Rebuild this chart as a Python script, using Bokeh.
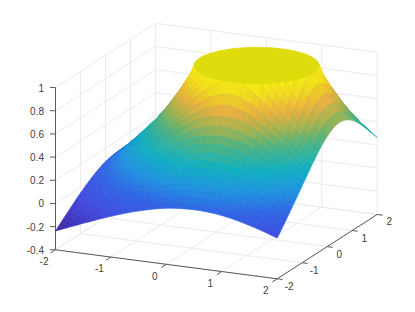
from bokeh.plotting import figure
from bokeh.models import Range1d
from bokeh.embed import file_html
from bokeh.resources import INLINE
from bokeh.core.properties import value
import numpy as np

# Axis tick values and labels
x_ticks = [-2, -1, 0, 1, 2]
y_ticks = [-2, -1, 0, 1, 2]
z_ticks = [-0.4, -0.2, 0, 0.2, 0.4, 0.6, 0.8, 1]
x_labels = ["-2", "-1", "0", "1", "2"]
y_labels = ["-2", "-1", "0", "1", "2"]
z_labels = ["-0.4", "-0.2", "0", "0.2", "0.4", "0.6", "0.8", "1"]

# Surface heights on a 0.1 grid. Each list is one row of constant y,
# x running from -2 to 2. The surface is mirror-symmetric about y=0.5, so rows are named by
# their distance from that line (h25 = 2.5 away) and reused on both sides of it.
h25 = [-.238,-.218,-.199,-.179,-.160,-.140,-.122,-.103,-.084,-.066,-.049,-.032,-.015,.000,.015,.029,.042,.054,.065,.075,.083,.090,.095,.099,.101,.102,.101,.099,.095,.090,.083,.075,.065,.054,.042,.029,.015,.000,-.015,-.032,-.049]
h24 = [-.218,-.20,-.18,-.16,-.14,-.12,-.10,-.08,-.06,-.04,-.02,.00,.02,.03,.05,.06,.08,.09,.10,.11,.12,.13,.13,.14,.14,.14,.14,.14,.13,.13,.12,.11,.10,.09,.08,.06,.05,.03,.02,.00,-.020]
h23 = [-.199,-.18,-.16,-.13,-.11,-.09,-.07,-.05,-.03,-.01,.01,.03,.05,.07,.08,.10,.11,.13,.14,.15,.16,.17,.18,.18,.18,.18,.18,.18,.18,.17,.16,.15,.14,.13,.11,.10,.08,.07,.05,.03,.010]
h22 = [-.179,-.16,-.13,-.11,-.09,-.07,-.05,-.02,.00,.02,.04,.06,.08,.10,.12,.14,.15,.17,.18,.19,.20,.21,.22,.22,.23,.23,.23,.22,.22,.21,.20,.19,.18,.17,.15,.14,.12,.10,.08,.06,.040]
h21 = [-.160,-.14,-.11,-.09,-.07,-.04,-.02,.00,.03,.05,.07,.09,.11,.13,.15,.17,.19,.21,.22,.24,.25,.26,.26,.27,.27,.27,.27,.27,.26,.26,.25,.24,.22,.21,.19,.17,.15,.13,.11,.09,.071]
h20 = [-.140,-.12,-.09,-.07,-.04,-.02,.01,.03,.05,.08,.10,.13,.15,.17,.19,.21,.23,.25,.27,.28,.29,.30,.31,.32,.32,.32,.32,.32,.31,.30,.29,.28,.27,.25,.23,.21,.19,.17,.15,.13,.102]
h19 = [-.122,-.10,-.07,-.05,-.02,.01,.03,.06,.08,.11,.13,.16,.18,.21,.23,.25,.27,.29,.31,.33,.34,.35,.36,.37,.37,.37,.37,.37,.36,.35,.34,.33,.31,.29,.27,.25,.23,.21,.18,.16,.134]
h18 = [-.103,-.08,-.05,-.02,.00,.03,.06,.09,.11,.14,.17,.19,.22,.24,.27,.29,.32,.34,.35,.37,.39,.40,.41,.42,.42,.42,.42,.42,.41,.40,.39,.37,.35,.34,.32,.29,.27,.24,.22,.19,.166]
h17 = [-.084,-.06,-.03,.00,.03,.05,.08,.11,.14,.17,.20,.23,.26,.28,.31,.33,.36,.38,.40,.42,.44,.45,.46,.47,.48,.48,.48,.47,.46,.45,.44,.42,.40,.38,.36,.33,.31,.28,.26,.23,.198]
h16 = [-.066,-.04,-.01,.02,.05,.08,.11,.14,.17,.20,.23,.26,.29,.32,.35,.38,.40,.43,.45,.47,.49,.51,.52,.53,.54,.54,.54,.53,.52,.51,.49,.47,.45,.43,.40,.38,.35,.32,.29,.26,.230]
h15 = [-.049,-.02,.01,.04,.07,.10,.13,.17,.20,.23,.26,.30,.33,.36,.39,.42,.45,.48,.51,.53,.55,.57,.58,.59,.60,.60,.60,.59,.58,.57,.55,.53,.51,.48,.45,.42,.39,.36,.33,.30,.263]
h14 = [-.032,.00,.03,.06,.09,.13,.16,.19,.23,.26,.30,.33,.37,.40,.43,.47,.50,.53,.56,.59,.61,.63,.65,.66,.67,.67,.67,.66,.65,.63,.61,.59,.56,.53,.50,.47,.43,.40,.37,.33,.296]
h13 = [-.015,.02,.05,.08,.11,.15,.18,.22,.26,.29,.33,.37,.40,.44,.48,.51,.55,.59,.62,.65,.68,.70,.72,.73,.74,.74,.74,.73,.72,.70,.68,.65,.62,.59,.55,.51,.48,.44,.40,.37,.328]
h12 = [.000,.03,.07,.10,.13,.17,.21,.24,.28,.32,.36,.40,.44,.48,.52,.56,.60,.64,.68,.71,.74,.77,.79,.81,.82,.82,.82,.81,.79,.77,.74,.71,.68,.64,.60,.56,.52,.48,.44,.40,.360]
h11 = [.015,.05,.08,.12,.15,.19,.23,.27,.31,.35,.39,.43,.48,.52,.57,.61,.65,.70,.74,.78,.81,.85,.87,.89,.90,.91,.90,.89,.87,.85,.81,.78,.74,.70,.65,.61,.57,.52,.48,.43,.392]
h10 = [.029,.06,.10,.14,.17,.21,.25,.29,.33,.38,.42,.47,.51,.56,.61,.66,.71,.76,.80,.85,.89,.93,.96,1,1,1,1,1,.96,.93,.89,.85,.80,.76,.71,.66,.61,.56,.51,.47,.422]
h09 = [.042,.08,.11,.15,.19,.23,.27,.32,.36,.40,.45,.50,.55,.60,.65,.71,.76,.82,.87,.92,1,1,1,1,1,1,1,1,1,1,1,.92,.87,.82,.76,.71,.65,.60,.55,.50,.452]
h08 = [.054,.09,.13,.17,.21,.25,.29,.34,.38,.43,.48,.53,.59,.64,.70,.76,.82,.88,.94,1,1,1,1,1,1,1,1,1,1,1,1,1,.94,.88,.82,.76,.70,.64,.59,.53,.480]
h07 = [.065,.10,.14,.18,.22,.27,.31,.35,.40,.45,.51,.56,.62,.68,.74,.80,.87,.94,1,1,1,1,1,1,1,1,1,1,1,1,1,1,1,.94,.87,.80,.74,.68,.62,.56,.506]
h06 = [.075,.11,.15,.19,.24,.28,.33,.37,.42,.47,.53,.59,.65,.71,.78,.85,.92,1,1,1,1,1,1,1,1,1,1,1,1,1,1,1,1,1,.92,.85,.78,.71,.65,.59,.530]
h05 = [.083,.12,.16,.20,.25,.29,.34,.39,.44,.49,.55,.61,.68,.74,.81,.89,1,1,1,1,1,1,1,1,1,1,1,1,1,1,1,1,1,1,1,.89,.81,.74,.68,.61,.551]
h04 = [.090,.13,.17,.21,.26,.30,.35,.40,.45,.51,.57,.63,.70,.77,.85,.93,1,1,1,1,1,1,1,1,1,1,1,1,1,1,1,1,1,1,1,.93,.85,.77,.70,.63,.569]
h03 = [.095,.13,.18,.22,.26,.31,.36,.41,.46,.52,.58,.65,.72,.79,.87,.96,1,1,1,1,1,1,1,1,1,1,1,1,1,1,1,1,1,1,1,.96,.87,.79,.72,.65,.583]
h02 = [.099,.14,.18,.22,.27,.32,.37,.42,.47,.53,.59,.66,.73,.81,.89,1,1,1,1,1,1,1,1,1,1,1,1,1,1,1,1,1,1,1,1,1,.89,.81,.73,.66,.594]
h01 = [.101,.14,.18,.23,.27,.32,.37,.42,.48,.54,.60,.67,.74,.82,.90,1,1,1,1,1,1,1,1,1,1,1,1,1,1,1,1,1,1,1,1,1,.90,.82,.74,.67,.600]
h00 = [.102,.14,.18,.23,.27,.32,.37,.42,.48,.54,.60,.67,.74,.82,.91,1,1,1,1,1,1,1,1,1,1,1,1,1,1,1,1,1,1,1,1,1,.91,.82,.74,.67,.603]
z_rows = [h25, h24, h23, h22, h21, h20, h19, h18, h17, h16, h15, h14, h13, h12, h11, h10, h09, h08, h07, h06, h05, h04, h03, h02, h01,
          h00, h01, h02, h03, h04, h05, h06, h07, h08, h09, h10, h11, h12, h13, h14, h15]
grid_x = [round(-2 + 0.1 * i, 1) for i in range(41)]
grid_y = list(grid_x)

# Flat circular top of the surface
top_center = (0.5, 0.5)
top_radius = 1.03
top_height = 1.0

colour_low, colour_high = -0.25, 1.0
parula_pos = [0, .16, .28, .38, .5, .63, .72, .82, .92, 1]
parula_rgb = [(60,38,160),(65,75,225),(48,100,228),(32,144,224),(16,176,192),(80,178,128),(160,178,80),(232,176,64),(240,215,30),(245,240,20)]
top_colour = "#dedc0c"
grid_colour = "#ebebeb"
axis_colour = "#5a5a5a"
text_colour = "#404040"
font = "Liberation Sans"

def project(x, y, z):
    x, y, z = np.asarray(x, float), np.asarray(y, float), np.asarray(z, float)
    sx = 55 + (x + 2) * 55.42 + (y + 2) * 25.0
    sy = 249.3 + (x + 2) * 7.25 - (y + 2) * 16.08 - (z + 0.4) * 115.9
    return sx, sy

def parula(v):
    t = np.clip((v - colour_low) / (colour_high - colour_low), 0, 1)
    rgb = [int(round(np.interp(t, parula_pos, [c[i] for c in parula_rgb]))) for i in range(3)]
    return "#%02x%02x%02x" % tuple(rgb)

p = figure(width=399, height=296, output_backend="svg", toolbar_location=None,
           x_range=Range1d(0, 399), y_range=Range1d(296, 0), min_border=0)
p.axis.visible = False
p.grid.visible = False
p.outline_line_color = None
p.background_fill_color = "white"

# Grid lines on the floor and the two back walls
zmin, zmax = z_ticks[0], z_ticks[-1]
gx, gy = [], []
def seg(a, b):
    sx, sy = project(*zip(a, b))
    gx.append(sx.tolist()); gy.append(sy.tolist())
for x in x_ticks:
    seg((x, -2, zmin), (x, 2, zmin))
    seg((x, 2, zmin), (x, 2, zmax))
for y in y_ticks:
    seg((-2, y, zmin), (2, y, zmin))
    seg((-2, y, zmin), (-2, y, zmax))
for z in z_ticks:
    seg((-2, -2, z), (-2, 2, z))
    seg((-2, 2, z), (2, 2, z))
p.multi_line(gx, gy, line_color=grid_colour, line_width=1)

# Axis lines and ticks
ax, ay = [], []
for a, b in [((-2,-2,zmin),(-2,-2,zmax)), ((-2,-2,zmin),(2,-2,zmin)), ((2,-2,zmin),(2,2,zmin))]:
    sx, sy = project(*zip(a, b))
    ax.append(sx.tolist()); ay.append(sy.tolist())
for z in z_ticks:
    sx, sy = project(-2, -2, z)
    ax.append([float(sx), float(sx) - 5.5]); ay.append([float(sy), float(sy)])
for x in x_ticks:
    sx, sy = project(x, -2, zmin)
    ax.append([float(sx), float(sx) - 5]); ay.append([float(sy), float(sy) + 3.2])
for y in y_ticks:
    sx, sy = project(2, y, zmin)
    ax.append([float(sx), float(sx) + 5.5]); ay.append([float(sy), float(sy) + 0.7])
p.multi_line(ax, ay, line_color=axis_colour, line_width=1)

# Surface: one facet per table cell, far cells first
zg = np.array(z_rows)
cells = []
for j in range(len(grid_y) - 1):
    for i in range(len(grid_x) - 1):
        xs = [grid_x[i], grid_x[i + 1], grid_x[i + 1], grid_x[i]]
        ys = [grid_y[j], grid_y[j], grid_y[j + 1], grid_y[j + 1]]
        zs = [zg[j, i], zg[j, i + 1], zg[j + 1, i + 1], zg[j + 1, i]]
        depth = 7.25 * np.mean(xs) - 16.08 * np.mean(ys)
        cells.append((depth, xs, ys, zs))
cells.sort(key=lambda c: c[0])
px, py, pc = [], [], []
for _, xs, ys, zs in cells:
    sx, sy = project(xs, ys, zs)
    px.append(sx.tolist()); py.append(sy.tolist()); pc.append(parula(np.mean(zs)))
p.patches(px, py, fill_color=pc, line_color=pc, line_width=0.6)

theta = np.linspace(0, 2 * np.pi, 121)
sx, sy = project(top_center[0] + top_radius * np.cos(theta), top_center[1] + top_radius * np.sin(theta), np.full_like(theta, top_height))
p.patch(sx.tolist(), sy.tolist(), fill_color=top_colour, line_color=top_colour, line_width=0.6)

# Tick labels
tx, ty = project(x_ticks, [-2] * 5, [zmin] * 5)
p.text((tx - 11.5).tolist(), (ty + 11.3).tolist(), text=x_labels, text_font=value(font), text_font_size="10px",
       text_color=text_colour, text_align="center", text_baseline="middle")
tx, ty = project([2] * 5, y_ticks, [zmin] * 5)
p.text((tx + 12).tolist(), (ty + 7).tolist(), text=y_labels, text_font=value(font), text_font_size="10px",
       text_color=text_colour, text_align="center", text_baseline="middle")
tx, ty = project([-2] * 8, [-2] * 8, z_ticks)
p.text((tx - 11.5).tolist(), ty.tolist(), text=z_labels, text_font=value(font), text_font_size="10px",
       text_color=text_colour, text_align="right", text_baseline="middle")

open("out.html", "w").write(file_html(p, INLINE))
